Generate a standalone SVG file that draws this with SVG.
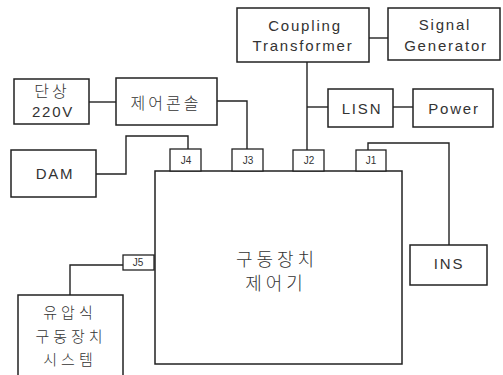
<svg xmlns="http://www.w3.org/2000/svg" width="503" height="375" viewBox="0 0 503 375">
<style>
.b{fill:#fff;stroke:#222;stroke-width:1.5}
.j{fill:#fff;stroke:#222;stroke-width:1.3}
.c{fill:none;stroke:#222;stroke-width:1.4}
text{font-family:"Liberation Sans","Noto Sans CJK KR",sans-serif;fill:#333;text-anchor:middle}
.t{font-size:15px;letter-spacing:1.8px}
.k{font-size:16px;letter-spacing:3px;font-family:"Noto Sans CJK KR",sans-serif;font-weight:300}
.h{font-size:15px;letter-spacing:4px;font-family:"Noto Sans CJK KR",sans-serif;font-weight:300}
.m{font-size:18px;letter-spacing:4px;font-family:"Noto Sans CJK KR",sans-serif;font-weight:300}
.s{font-size:10px}
</style>
<rect width="503" height="375" fill="#fff"/>
<g id="connectors">
<polyline class="c" points="89,102 116,102"/>
<polyline class="c" points="217,101 247,101 247,149"/>
<polyline class="c" points="96,174 126,174 126,136 188,136 188,149"/>
<polyline class="c" points="307,62 307,150"/>
<polyline class="c" points="307,107 328,107"/>
<polyline class="c" points="393,107 413,107"/>
<polyline class="c" points="369,38 388,38"/>
<polyline class="c" points="368,150 368,143 449,143 449,245"/>
<polyline class="c" points="123,265 70,265 70,295"/>
</g>
<g id="coupling"><rect class="b" x="237" y="8" width="132" height="54"/><text class="t" x="305" y="31">Coupling</text><text class="t" x="303" y="51">Transformer</text></g>
<g id="signal"><rect class="b" x="388" y="8" width="112" height="52"/><text class="t" x="445" y="30">Signal</text><text class="t" x="446" y="51">Generator</text></g>
<g id="lisn"><rect class="b" x="328" y="89" width="65" height="38"/><text class="t" x="362" y="114">LISN</text></g>
<g id="power"><rect class="b" x="413" y="89" width="80" height="38"/><text class="t" x="454" y="114">Power</text></g>
<g id="single"><rect class="b" x="14" y="79" width="75" height="45"/><text class="k" x="52" y="97">단상</text><text class="t" x="53" y="117">220V</text></g>
<g id="console"><rect class="b" x="116" y="78" width="101" height="47"/><text class="k" x="166" y="109">제어콘솔</text></g>
<g id="dam"><rect class="b" x="11" y="150" width="85" height="47"/><text class="t" x="55" y="179">DAM</text></g>
<g id="ins"><rect class="b" x="410" y="245" width="77" height="40"/><text class="t" x="449" y="269">INS</text></g>
<g id="controller"><rect class="b" x="155" y="171" width="247" height="193"/><text class="m" x="277" y="266">구동장치</text><text class="m" x="276" y="290">제어기</text></g>
<g id="j4"><rect class="j" x="170" y="149" width="31" height="22"/><text class="s" x="186" y="164">J4</text></g>
<g id="j3"><rect class="j" x="232" y="149" width="31" height="22"/><text class="s" x="248" y="164">J3</text></g>
<g id="j2"><rect class="j" x="293" y="150" width="31" height="21"/><text class="s" x="309" y="164">J2</text></g>
<g id="j1"><rect class="j" x="356" y="150" width="30" height="21"/><text class="s" x="371" y="164">J1</text></g>
<g id="j5"><rect class="j" x="123" y="255" width="31" height="15"/><text class="s" x="138" y="266">J5</text></g>
<g id="hydraulic"><rect class="b" x="18" y="295" width="105" height="95"/><text class="h" x="70" y="318">유압식</text><text class="h" x="71" y="342">구동장치</text><text class="h" x="70" y="365">시스템</text></g>
</svg>
